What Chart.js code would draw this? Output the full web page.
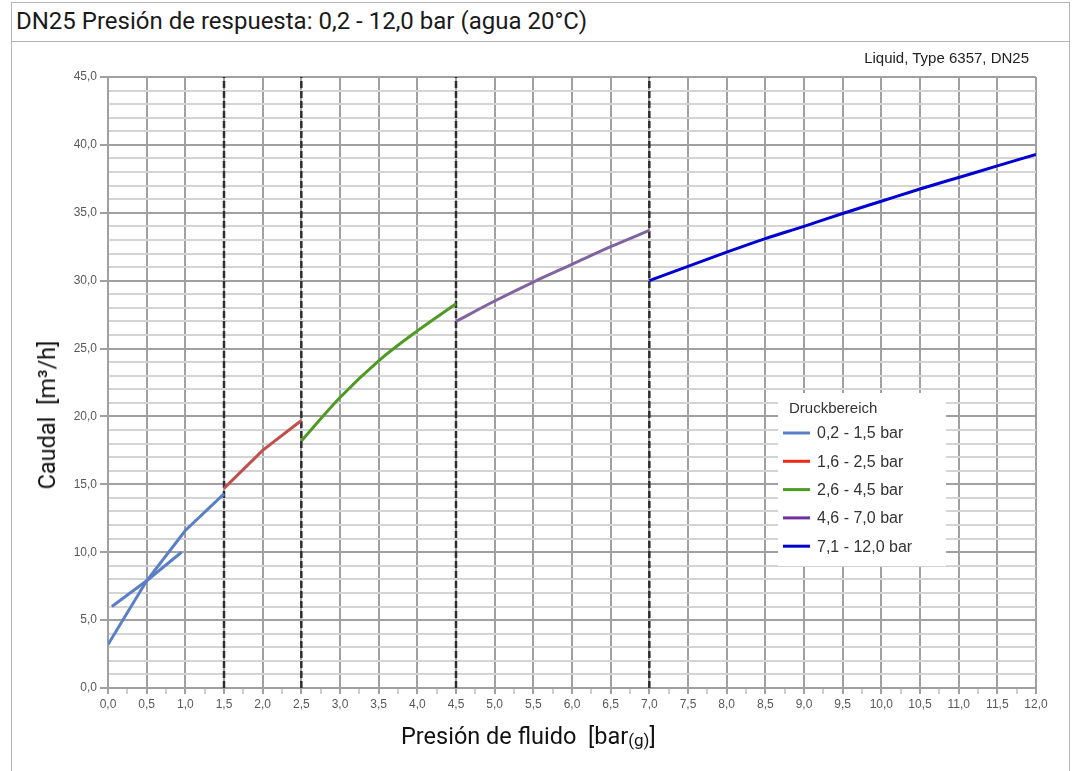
<!DOCTYPE html>
<html>
<head>
<meta charset="utf-8">
<script src="https://cdn.jsdelivr.net/npm/chart.js@4.4.1/dist/chart.umd.min.js"></script>
<style>
  html, body { margin: 0; padding: 0; background: #fff; overflow: hidden; }
  #frame {
    position: absolute; left: 11px; top: 2px; width: 1059px; height: 820px;
    border: 1px solid #b4b4b4; box-sizing: border-box;
  }
  #header {
    position: absolute; left: 0; top: 0; right: 0; height: 38px;
    border-bottom: 1px solid #b4b4b4;
    font-family: Roboto, sans-serif; font-size: 24px; line-height: 37px;
    padding-left: 4px; color: #1a1a1a; white-space: nowrap;
  }
  #chart { position: absolute; left: 12px; top: 41px; }
  #note {
    position: absolute; right: 48px; top: 49px;
    font-family: "Liberation Sans", Arial, sans-serif; font-size: 15px; color: #222;
    white-space: nowrap;
  }
  #ytitle {
    position: absolute; left: 47px; top: 415px;
    transform: translate(-50%, -50%) rotate(-90deg);
    font-family: Roboto, sans-serif; font-size: 23.5px; color: #111; white-space: pre;
  }
  #xtitle {
    position: absolute; left: 401px; top: 722px;
    font-family: Roboto, sans-serif; font-size: 23.5px; color: #111; white-space: pre;
  }
  #xtitle span { font-size: 17px; vertical-align: -2px; }
</style>
</head>
<body>
<div id="frame"><div id="header">DN25 Presión de respuesta: 0,2 - 12,0 bar (agua 20°C)</div></div>
<canvas id="chart" width="1057" height="730"></canvas>
<div id="note">Liquid, Type 6357, DN25</div>
<div id="ytitle">Caudal  [m³/h]</div>
<div id="xtitle">Presión de fluido  [bar<span>(g)</span>]</div>
<script>
// Flow curves per pressure range (x: bar(g), y: m³/h)
const pressureLowA = [0.0, 0.5, 1.0, 1.5];
const flowLowA = [3.2, 7.9, 11.6, 14.3];
const pressureLowB = [0.05, 0.5, 0.95];
const flowLowB = [6.0, 7.9, 10.0];
const pressureR2 = [1.5, 2.0, 2.5];
const flowR2 = [14.7, 17.5, 19.7];
const pressureR3 = [2.5, 3.0, 3.5, 4.0, 4.5];
const flowR3 = [18.2, 21.4, 24.1, 26.3, 28.3];
const pressureR4 = [4.5, 5.0, 5.5, 6.0, 6.5, 7.0];
const flowR4 = [27.0, 28.5, 29.9, 31.2, 32.5, 33.7];
const pressureR5 = [7.0, 7.5, 8.0, 8.5, 9.0, 9.5, 10.0, 10.5, 11.0, 11.5, 12.0];
const flowR5 = [30.0, 31.05, 32.1, 33.1, 34.0, 34.95, 35.85, 36.75, 37.6, 38.45, 39.3];

const rangeLabels = ['0,2 - 1,5 bar', '1,6 - 2,5 bar', '2,6 - 4,5 bar', '4,6 - 7,0 bar', '7,1 - 12,0 bar'];
const rangeColors = ['#5b7fc6', '#c0504d', '#4f9a23', '#8064a2', '#0000d0'];
const legendColors = ['#5b7fc6', '#ee2a1a', '#4f9a23', '#7030a0', '#0000d0'];
const boundaryPressures = [1.5, 2.5, 4.5, 7.0];
const pressureRange = [0, 12];
const flowRange = [0, 45];
const legendTitle = 'Druckbereich';

const toPoints = (xs, ys) => xs.map((x, i) => ({ x, y: ys[i] }));
const decimalComma = v => v.toFixed(1).replace('.', ',');
const isMultiple = (v, step) => Math.abs(v / step - Math.round(v / step)) < 1e-6;

const curve = (label, xs, ys, color, smooth, idx, inLegend) => ({
  label, data: toPoints(xs, ys), borderColor: color, backgroundColor: color,
  borderWidth: 3, pointRadius: 0, fill: false,
  tension: 0, cubicInterpolationMode: smooth ? 'monotone' : 'default',
  inLegend, legendColor: legendColors[idx]
});

const datasets = [
  curve(rangeLabels[0], pressureLowA, flowLowA, rangeColors[0], false, 0, true),
  curve(rangeLabels[0], pressureLowB, flowLowB, rangeColors[0], false, 0, false),
  curve(rangeLabels[1], pressureR2, flowR2, rangeColors[1], false, 1, true),
  curve(rangeLabels[2], pressureR3, flowR3, rangeColors[2], true, 2, true),
  curve(rangeLabels[3], pressureR4, flowR4, rangeColors[3], true, 3, true),
  curve(rangeLabels[4], pressureR5, flowR5, rangeColors[4], true, 4, true)
];
boundaryPressures.forEach(p => datasets.push({
  label: 'boundary ' + p,
  data: [{ x: p, y: flowRange[0] }, { x: p, y: flowRange[1] }],
  borderColor: '#2e2e2e', borderWidth: 2.5, borderDash: [7, 3],
  pointRadius: 0, fill: false, inLegend: false
}));

// Legend box drawn inside the plot area
const rangeLegend = {
  id: 'rangeLegend',
  afterDatasetsDraw(chart, args, opts) {
    const { ctx, chartArea } = chart;
    const x0 = chartArea.right - opts.fromRight;
    const y0 = chartArea.top + opts.fromTop;
    ctx.save();
    ctx.fillStyle = '#ffffff';
    ctx.fillRect(x0, y0, opts.width, opts.height);
    ctx.textBaseline = 'middle';
    ctx.textAlign = 'left';
    ctx.fillStyle = '#333333';
    ctx.font = '15px "Liberation Sans", Arial, sans-serif';
    ctx.fillText(opts.title, x0 + 11, y0 + 16);
    ctx.font = '16px "Liberation Sans", Arial, sans-serif';
    chart.data.datasets.filter(d => d.inLegend).forEach((d, i) => {
      const y = y0 + 40 + i * 28.3;
      ctx.strokeStyle = d.legendColor;
      ctx.lineWidth = 3;
      ctx.beginPath();
      ctx.moveTo(x0 + 5, y);
      ctx.lineTo(x0 + 32, y);
      ctx.stroke();
      ctx.fillStyle = '#333333';
      ctx.fillText(d.label, x0 + 39, y + 1);
    });
    ctx.restore();
  }
};

const tickFont = { family: '"Liberation Sans", Arial, sans-serif', size: 12 };

new Chart(document.getElementById('chart'), {
  type: 'line',
  data: { datasets },
  plugins: [rangeLegend],
  options: {
    responsive: false,
    animation: false,
    events: [],
    layout: { padding: { top: 36, right: 33, left: 0, bottom: 43 } },
    plugins: {
      legend: { display: false },
      tooltip: { enabled: false },
      rangeLegend: { title: legendTitle, fromRight: 258, fromTop: 316, width: 168, height: 173 }
    },
    scales: {
      x: {
        type: 'linear', min: pressureRange[0], max: pressureRange[1],
        afterFit: s => { s.height = 40; },
        ticks: {
          stepSize: 0.25, autoSkip: false, maxRotation: 0, padding: 3,
          color: '#595959', font: tickFont,
          callback: v => isMultiple(v, 0.5) ? decimalComma(v) : ''
        },
        grid: {
          lineWidth: 2, tickLength: 6,
          color: c => isMultiple(c.tick.value, 0.5) ? '#a0a0a0' : 'rgba(0,0,0,0)',
          tickColor: c => isMultiple(c.tick.value, 0.5) ? '#a0a0a0' : '#cfcfcf'
        },
        border: { color: '#a0a0a0', width: 2 }
      },
      y: {
        type: 'linear', min: flowRange[0], max: flowRange[1],
        afterFit: s => { s.width = 96; },
        ticks: {
          stepSize: 1, autoSkip: false, padding: 3,
          color: '#595959', font: tickFont,
          callback: v => isMultiple(v, 5) ? decimalComma(v) : ''
        },
        grid: {
          lineWidth: 2, tickLength: 8,
          color: c => isMultiple(c.tick.value, 5) ? '#a0a0a0' : '#d4d4d4',
          tickColor: c => isMultiple(c.tick.value, 5) ? '#a0a0a0' : 'rgba(0,0,0,0)'
        },
        border: { color: '#a0a0a0', width: 2 }
      }
    }
  }
});
</script>
</body>
</html>
